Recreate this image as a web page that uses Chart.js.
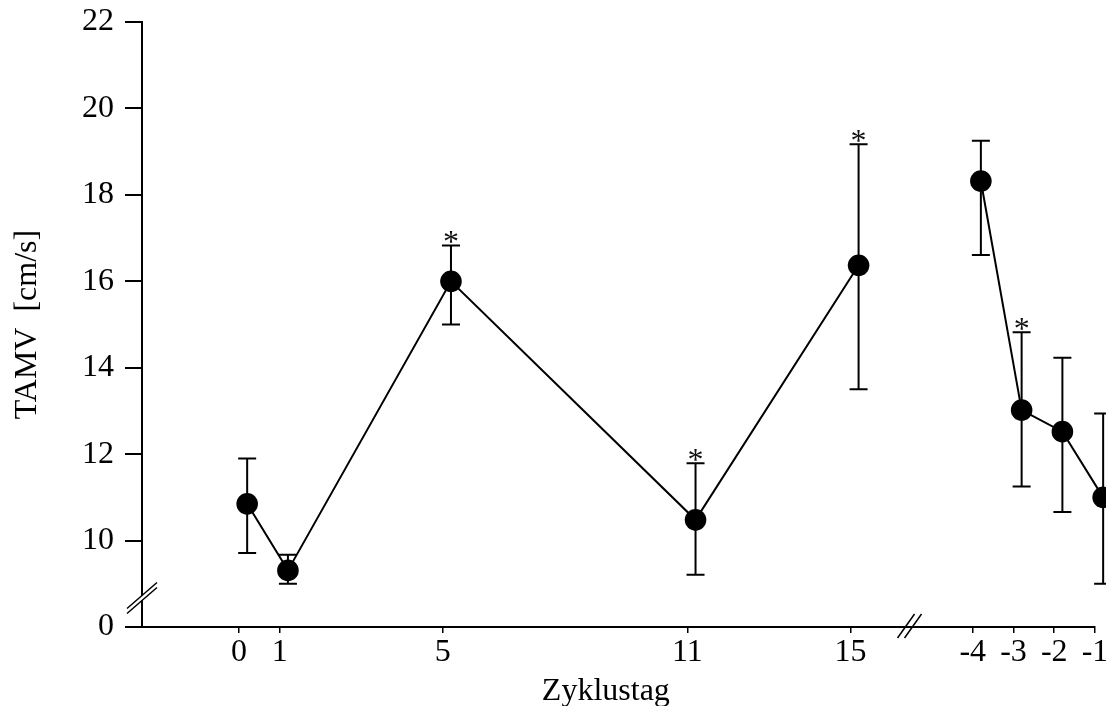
<!DOCTYPE html>
<html>
<head>
<meta charset="utf-8">
<script src="https://cdn.jsdelivr.net/npm/chart.js@4.4.1/dist/chart.umd.min.js"></script>
<style>
  html, body { margin: 0; padding: 0; background: #fff; }
  canvas { display: block; }
</style>
</head>
<body>
<canvas id="c" width="1106" height="706"></canvas>
<script>
// Cycle days as printed under the axis, and where each sits on the continuous axis
const dayLabels = ['0', '1', '5', '11', '15', '-4', '-3', '-2', '-1'];
const axisPos   = [0, 1, 5, 11, 15, 18, 19, 20, 21];

// TAMV mean and error-bar limits [cm/s]
const tamvMean  = [10.85, 9.31, 16.0, 10.48, 16.37, 18.32, 13.02, 12.52, 11.0];
const tamvUpper = [11.9, 9.67, 16.83, 11.79, 19.17, 19.25, 14.82, 14.23, 12.94];
const tamvLower = [9.71, 9.0, 15.0, 9.21, 13.5, 16.61, 11.25, 10.66, 9.0];
const significant = [false, false, true, true, true, false, true, false, false];

// Y tick values and their printed text (the bottom tick stands for the broken axis origin)
const yTickValues = [8, 10, 12, 14, 16, 18, 20, 22];
const yTickText   = ['0', '10', '12', '14', '16', '18', '20', '22'];

// Index where the second run of days (before the next cycle) starts
const secondRunStart = 5;

const serif = "'Liberation Serif', 'Times New Roman', serif";
const fontSize = 32;
const markerShift = 0.2;   // markers sit slightly right of their tick
const capHalf = 9;

function pointsFor(from, to) {
  const out = [];
  for (let i = from; i < to; i++) out.push({ x: axisPos[i] + markerShift, y: tamvMean[i] });
  return out;
}

const decor = {
  id: 'decor',
  beforeDatasetsDraw(chart) {
    const { ctx, scales: { x, y } } = chart;
    ctx.save();
    ctx.strokeStyle = '#000';
    ctx.lineWidth = 2;
    tamvMean.forEach((m, i) => {
      const px = x.getPixelForValue(axisPos[i] + markerShift);
      const top = y.getPixelForValue(tamvUpper[i]);
      const bot = y.getPixelForValue(tamvLower[i]);
      ctx.beginPath();
      ctx.moveTo(px, top); ctx.lineTo(px, bot);
      ctx.moveTo(px - capHalf, top); ctx.lineTo(px + capHalf, top);
      ctx.moveTo(px - capHalf, bot); ctx.lineTo(px + capHalf, bot);
      ctx.stroke();
    });
    ctx.restore();
  },
  afterDraw(chart) {
    const { ctx, chartArea: area, scales: { x, y } } = chart;
    ctx.save();

    // significance asterisks above the upper caps
    ctx.fillStyle = '#111';
    ctx.font = `${fontSize}px ${serif}`;
    ctx.textAlign = 'center';
    ctx.textBaseline = 'alphabetic';
    tamvMean.forEach((m, i) => {
      if (!significant[i]) return;
      const px = x.getPixelForValue(axisPos[i] + markerShift);
      const top = y.getPixelForValue(tamvUpper[i]);
      ctx.fillText('*', px, top + 7);
    });

    // y-axis break mark
    ctx.strokeStyle = '#000';
    ctx.lineWidth = 1.5;
    const ax = area.left, cy = area.bottom - 29;
    ctx.fillStyle = '#fff';
    ctx.beginPath();
    ctx.moveTo(ax - 14, cy - 2.5 + 12);
    ctx.lineTo(ax + 14, cy - 2.5 - 12);
    ctx.lineTo(ax + 14, cy + 2.5 - 12);
    ctx.lineTo(ax - 14, cy + 2.5 + 12);
    ctx.closePath();
    ctx.fill();
    ctx.beginPath();
    ctx.moveTo(ax - 15, cy - 2.5 + 13); ctx.lineTo(ax + 15, cy - 2.5 - 13);
    ctx.moveTo(ax - 15, cy + 2.5 + 13); ctx.lineTo(ax + 15, cy + 2.5 - 13);
    ctx.stroke();

    // x-axis break mark between day 15 and day -4
    const bx = x.getPixelForValue(16.45), by = area.bottom - 1;
    ctx.beginPath();
    ctx.moveTo(bx - 3.5 - 8.5, by + 12); ctx.lineTo(bx - 3.5 + 8.5, by - 12);
    ctx.moveTo(bx + 3.5 - 8.5, by + 12); ctx.lineTo(bx + 3.5 + 8.5, by - 12);
    ctx.stroke();

    // x-axis title
    ctx.fillStyle = '#000';
    ctx.font = `${fontSize}px ${serif}`;
    ctx.textAlign = 'center';
    ctx.textBaseline = 'alphabetic';
    ctx.fillText('Zyklustag', x.getPixelForValue(9), 700);

    ctx.restore();
  }
};

const lineStyle = {
  borderColor: '#000',
  borderWidth: 2,
  backgroundColor: '#000',
  pointBackgroundColor: '#000',
  pointBorderWidth: 0,
  pointRadius: 10.8,
  tension: 0,
  fill: false,
  clip: false
};

new Chart(document.getElementById('c'), {
  type: 'line',
  data: {
    datasets: [
      Object.assign({ data: pointsFor(0, secondRunStart) }, lineStyle),
      Object.assign({ data: pointsFor(secondRunStart, axisPos.length) }, lineStyle)
    ]
  },
  options: {
    responsive: false,
    animation: false,
    devicePixelRatio: 1,
    layout: { padding: { top: 22, right: 11, left: 0, bottom: 0 } },
    plugins: { legend: { display: false }, tooltip: { enabled: false } },
    scales: {
      x: {
        type: 'linear',
        min: -2.38,
        max: 21,
        afterBuildTicks: s => { s.ticks = axisPos.map(v => ({ value: v })); },
        afterFit: s => { s.height = 79; s.paddingLeft = 0; s.paddingRight = 0; },
        border: { display: true, color: '#000', width: 2 },
        grid: { drawOnChartArea: false, drawTicks: true, tickLength: 6, color: '#000', lineWidth: 1.5 },
        ticks: {
          autoSkip: false, maxRotation: 0, minRotation: 0,
          padding: 0,
          color: '#000',
          font: { family: serif, size: fontSize },
          callback: (v, i) => dayLabels[i]
        }
      },
      y: {
        type: 'linear',
        min: 8,
        max: 22,
        afterBuildTicks: s => { s.ticks = yTickValues.map(v => ({ value: v })); },
        afterFit: s => { s.width = 142; s.paddingTop = 0; s.paddingBottom = 0; },
        border: { display: true, color: '#000', width: 2 },
        grid: { drawOnChartArea: false, drawTicks: true, tickLength: 17, color: '#000', lineWidth: 2 },
        ticks: {
          padding: 11,
          color: '#000',
          font: { family: serif, size: fontSize },
          callback: (v, i) => yTickText[i]
        },
        title: {
          display: true,
          text: 'TAMV  [cm/s]',
          color: '#000',
          font: { family: serif, size: fontSize },
          padding: { top: 8.8, bottom: 0 }
        }
      }
    }
  },
  plugins: [decor]
});
</script>
</body>
</html>
